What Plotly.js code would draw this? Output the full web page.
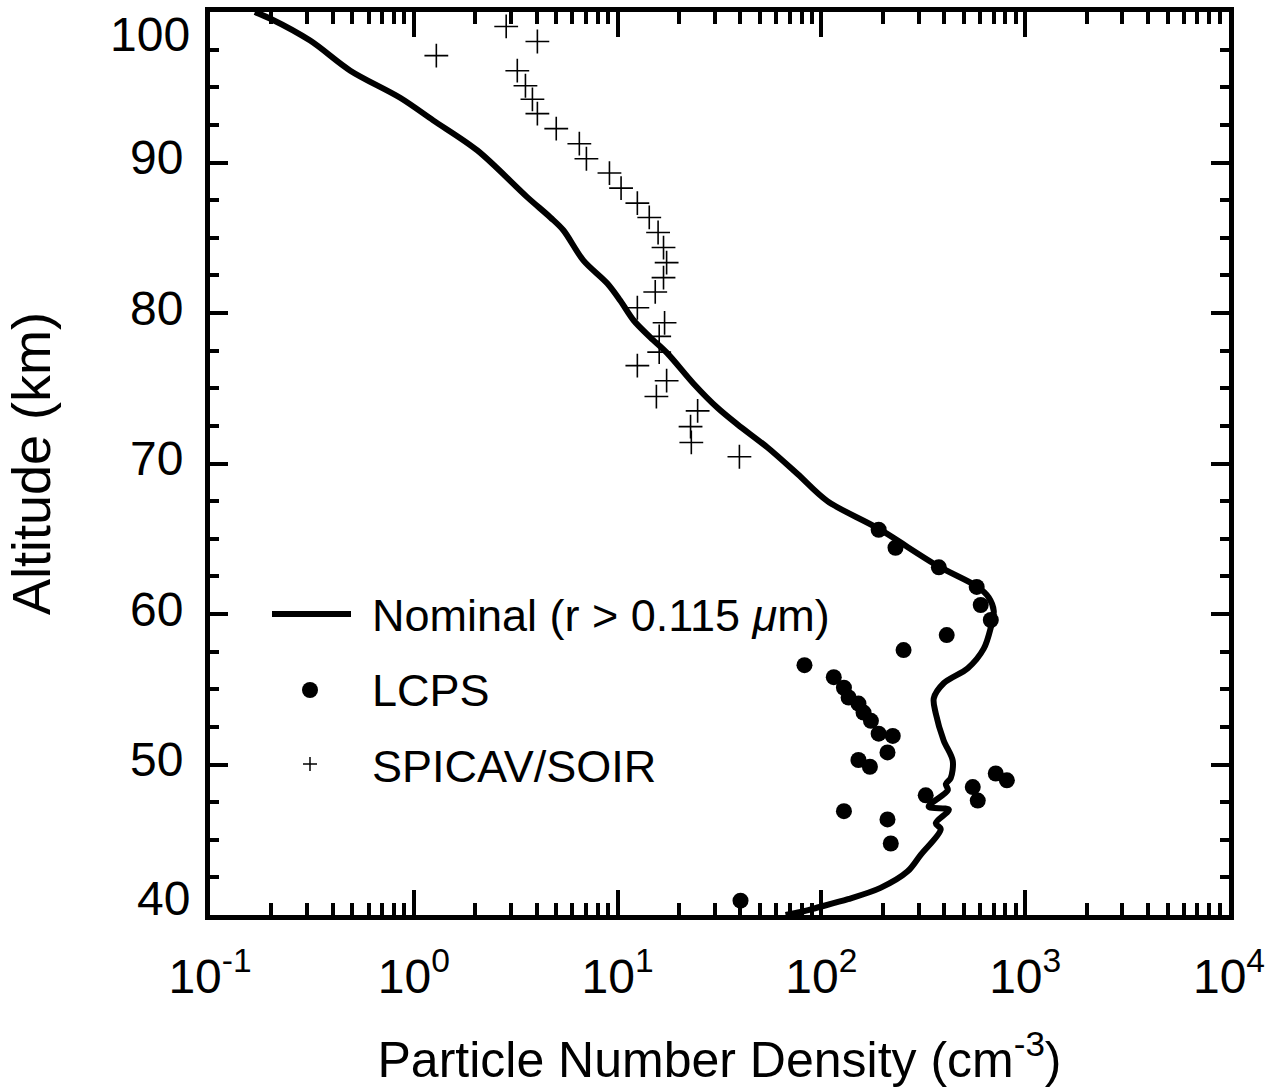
<!DOCTYPE html>
<html>
<head>
<meta charset="utf-8">
<script src="https://cdn.plot.ly/plotly-3.0.1.min.js"></script>
<style>html,body{margin:0;padding:0;background:#fff;}#chart{width:1275px;height:1091px;}</style>
</head>
<body>
<div id="chart"></div>
<script>
// Nominal model profile (r > 0.115 um): density (cm^-3) vs altitude (km)
const nominalDensity = [0.166,0.197,0.310,0.488,0.857,1.245,2.05,3.60,4.68,5.42,6.79,8.91,10.3,12.0,14.5,17.6,23.6,30.9,38.7,54.4,76.4,107,189,372,585,662,701,678,626,523,398,356,364,398,441,431,408,417,336,422,364,385,307,265,195,135,95.7,79.1,66.7];
const nominalAltitude = [100.0,99.57,98.1,96.1,94.3,92.8,90.8,87.7,86.35,85.5,83.5,81.96,80.83,79.5,78.37,77.3,75.3,73.7,72.6,71.06,69.3,67.5,65.7,63.2,61.8,61.1,60.2,59.1,57.7,56.4,55.4,54.4,53.4,51.6,50.25,49.1,48.7,48.3,47.2,47.0,46.1,45.7,44.0,42.9,41.8,41.05,40.5,40.2,40.0];

// LCPS (Pioneer Venus) measurements
const lcpsDensity = [191,231,377,578,605,678,412,253,82.6,115,129,136,152,161,175,191,224,211,152,173,717,813,553,585,325,129,211,219,40.1];
const lcpsAltitude = [65.6,64.4,63.1,61.8,60.6,59.6,58.6,57.6,56.6,55.8,55.1,54.45,54.05,53.45,52.9,52.05,51.9,50.8,50.3,49.85,49.4,48.95,48.5,47.6,47.95,46.9,46.35,44.75,40.95];

// SPICAV/SOIR measurements
const spicavDensity = [2.84,4.04,1.29,3.22,3.53,3.82,4.04,5.00,6.49,7.03,9.12,10.4,12.5,14.3,15.8,16.8,17.4,16.8,15.3,12.5,17.0,16.0,16.0,12.5,17.4,15.5,24.7,22.8,23.0,39.6];
const spicavAltitude = [99.04,98.04,97.1,96.1,95.1,94.2,93.25,92.25,91.25,90.25,89.3,88.3,87.3,86.35,85.35,84.35,83.35,82.35,81.4,80.35,79.35,78.45,77.4,76.5,75.5,74.45,73.5,72.45,71.4,70.45];

// Axis ticks
const xTickVals = [0.1,1,10,100,1000,10000];
const xTickText = ['10<sup>-1</sup>','10<sup>0</sup>','10<sup>1</sup>','10<sup>2</sup>','10<sup>3</sup>','10<sup>4</sup>'];
const yTickVals = [40,50,60,70,80,90,100];
const yTickText = ['','50','60','70','80','90',''];

// Legend labels
const legendLabels = ['Nominal (r &gt; 0.115 <i>μ</i>m)','LCPS','SPICAV/SOIR'];

const FONT = 'Liberation Sans, Arial, Helvetica, sans-serif';

const traces = [
  {x: nominalDensity, y: nominalAltitude, type:'scatter', mode:'lines',
   line:{color:'#000', width:6, shape:'spline', smoothing:0.9}, name:'Nominal', cliponaxis:true},
  {x: lcpsDensity, y: lcpsAltitude, type:'scatter', mode:'markers',
   marker:{symbol:'circle', size:16, color:'#000'}, name:'LCPS'},
  {x: spicavDensity, y: spicavAltitude, type:'scatter', mode:'markers',
   marker:{symbol:'cross-thin', size:17, color:'#000', line:{color:'#000', width:1.6}}, name:'SPICAV/SOIR'}
];

const L = 210, R = 1229, T = 12, B = 915;
const px = v => (v - L) / (R - L);
const py = v => (B - v) / (B - T);

const layout = {
  width:1275, height:1091,
  margin:{l:L, r:1275-R, t:T, b:1091-B},
  paper_bgcolor:'#fff', plot_bgcolor:'#fff',
  showlegend:false,
  font:{family:FONT, color:'#000'},
  xaxis:{
    type:'log', range:[-1,4],
    tickmode:'array', tickvals:xTickVals, ticktext:xTickText,
    ticks:'inside', ticklen:25, tickwidth:4, tickcolor:'#000',
    minor:{ticks:'inside', ticklen:12, tickwidth:4, tickcolor:'#000', dtick:'D1', showgrid:false},
    showline:true, linewidth:5, linecolor:'#000', mirror:'allticks',
    showgrid:false, zeroline:false,
    tickfont:{family:FONT, size:48, color:'#000'},
    ticklabelstandoff:15,
    title:{text:'Particle Number Density (cm<sup>-3</sup>)', font:{family:FONT, size:50, color:'#000'}, standoff:42}
  },
  yaxis:{
    range:[40,100],
    tickmode:'array', tickvals:yTickVals, ticktext:yTickText,
    ticks:'inside', ticklen:18, tickwidth:4, tickcolor:'#000',
    minor:{ticks:'inside', ticklen:9, tickwidth:4, tickcolor:'#000', dtick:2.5, tick0:40, showgrid:false},
    showline:true, linewidth:5, linecolor:'#000', mirror:'allticks',
    showgrid:false, zeroline:false,
    tickfont:{family:FONT, size:48, color:'#000'},
    ticklabelstandoff:12, ticklabelshift:-5,
    title:{text:'Altitude (km)', font:{family:FONT, size:54, color:'#000'}, standoff:64}
  },
  shapes:[
    {type:'line', xref:'paper', yref:'paper', x0:px(272), x1:px(351), y0:py(614), y1:py(614), line:{color:'#000', width:6}},
    {type:'circle', xref:'paper', yref:'paper', xsizemode:'pixel', ysizemode:'pixel', xanchor:px(310), yanchor:py(690), x0:-8, x1:8, y0:-8, y1:8, fillcolor:'#000', line:{color:'#000', width:0}},
    {type:'line', xref:'paper', yref:'paper', xsizemode:'pixel', ysizemode:'pixel', xanchor:px(310), yanchor:py(764), x0:-7, x1:7, y0:0, y1:0, line:{color:'#000', width:1.5}},
    {type:'line', xref:'paper', yref:'paper', xsizemode:'pixel', ysizemode:'pixel', xanchor:px(310), yanchor:py(764), x0:0, x1:0, y0:-7, y1:7, line:{color:'#000', width:1.5}}
  ],
  annotations:[
    {xref:'paper', yref:'paper', x:px(370), y:py(615), xanchor:'left', yanchor:'middle', text:legendLabels[0], showarrow:false, font:{family:FONT, size:45, color:'#000'}},
    {xref:'paper', yref:'paper', x:px(370), y:py(690), xanchor:'left', yanchor:'middle', text:legendLabels[1], showarrow:false, font:{family:FONT, size:45, color:'#000'}},
    {xref:'paper', yref:'paper', x:px(370), y:py(766), xanchor:'left', yanchor:'middle', text:legendLabels[2], showarrow:false, font:{family:FONT, size:45, color:'#000'}},
    {xref:'paper', yref:'paper', x:px(192), y:py(35), xanchor:'right', yanchor:'middle', text:'100', showarrow:false, font:{family:FONT, size:48, color:'#000'}},
    {xref:'paper', yref:'paper', x:px(192), y:py(898), xanchor:'right', yanchor:'middle', text:'40', showarrow:false, font:{family:FONT, size:48, color:'#000'}}
  ]
};

Plotly.newPlot('chart', traces, layout, {staticPlot:true, displayModeBar:false});
</script>
</body>
</html>
